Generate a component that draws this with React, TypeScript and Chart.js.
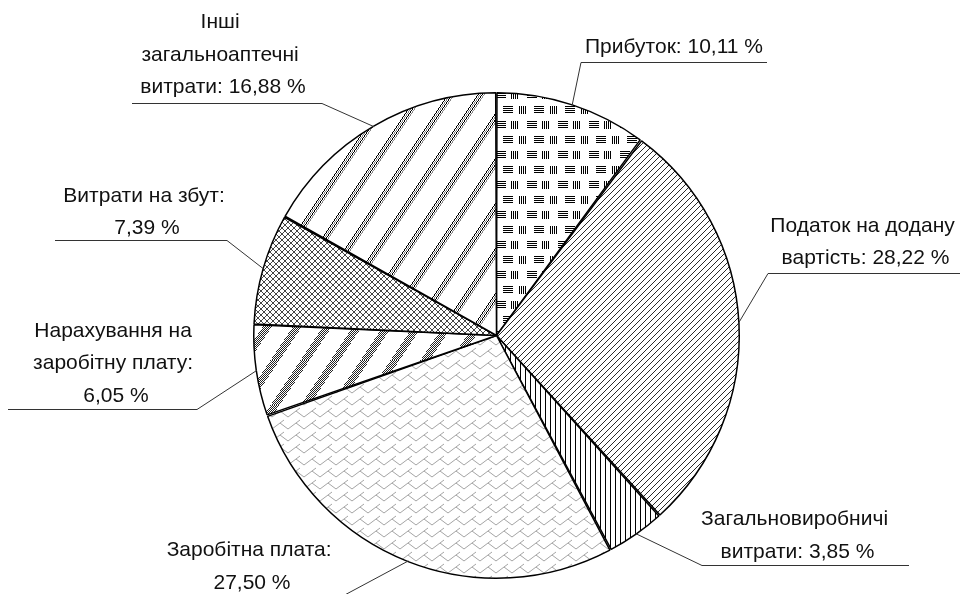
import React, { useEffect, useRef } from "react";
import { Chart, registerables } from "chart.js";

Chart.register(...registerables);

// ---- data ----
const categories = [
  "Прибуток",
  "Податок на додану вартість",
  "Загальновиробничі витрати",
  "Заробітна плата",
  "Нарахування на заробітну плату",
  "Витрати на збут",
  "Інші загальноаптечні витрати",
];
const shares = [10.11, 28.22, 3.85, 27.5, 6.05, 7.39, 16.88];
const valueSuffix = " %";
// how many words of "name: value %" go on each label line
const labelLineWords = [[3], [3, 3], [1, 3], [2, 2], [2, 2, 2], [3, 2], [1, 1, 3]];

// ---- label layout (positions only) ----
const labelBoxes = [
  { cx: 674, y0: 53, ulY: 62.5, ulX1: 581, ulX2: 767, elbowX: 581 },
  { cx: 865.5, y0: 231.5, ulY: 273.5, ulX1: 768, ulX2: 960, elbowX: 768 },
  { cx: 797.5, y0: 525, ulY: 565.5, ulX1: 702, ulX2: 909, elbowX: 702 },
  { cx: 252, y0: 556, ulY: 597.5, ulX1: 150, ulX2: 340, elbowX: 340 },
  { cx: 116, y0: 336.5, ulY: 409.5, ulX1: 8, ulX2: 197, elbowX: 197 },
  { cx: 147, y0: 201.5, ulY: 240.5, ulX1: 55, ulX2: 227, elbowX: 227 },
  { cx: 223, y0: 28, ulY: 103.5, ulX1: 132, ulX2: 322, elbowX: 322 },
];
const LINE_H = 32.5;
const FONT = '21px "Liberation Sans", Arial, sans-serif';

function fmt(v: number) {
  return v.toFixed(2).replace(".", ",");
}

function labelLines(i: number): string[] {
  const words = `${categories[i]}: ${fmt(shares[i])}${valueSuffix}`.split(" ");
  const out: string[] = [];
  let p = 0;
  const counts = labelLineWords[i];
  counts.forEach((n, k) => {
    let s = words.slice(p, p + n).join(" ");
    if (k < counts.length - 1) s += " ";
    out.push(s);
    p += n;
  });
  return out;
}

function tile(ctx: CanvasRenderingContext2D, w: number, h: number, draw: (g: CanvasRenderingContext2D) => void) {
  const c = document.createElement("canvas");
  c.width = w;
  c.height = h;
  const g = c.getContext("2d")!;
  g.fillStyle = "#fff";
  g.fillRect(0, 0, w, h);
  draw(g);
  return ctx.createPattern(c, "repeat")!;
}

function makePatterns(ctx: CanvasRenderingContext2D) {
  // 1: basket weave ≡ ||||
  const p1 = tile(ctx, 31, 30, (g) => {
    g.fillStyle = "#000";
    const glyph = (x: number, y: number, horiz: boolean) => {
      for (let k = 0; k < 4; k++) {
        if (horiz) g.fillRect(x, y + k * 2, 10, 1);
        else g.fillRect(x + k * 2, y, 1, 8);
      }
    };
    glyph(0, 1, true);
    glyph(15, 1, false);
    glyph(7, 16, true);
    glyph(23, 16, false);
  });
  // 2: dense up diagonal
  const p2 = tile(ctx, 6, 6, (g) => {
    g.fillStyle = "#2a2a2a";
    for (let i = 0; i < 6; i++) g.fillRect(i, 5 - i, 1, 1);
  });
  // 3: vertical lines
  const p3 = tile(ctx, 5, 1, (g) => {
    g.fillStyle = "#000";
    g.fillRect(0, 0, 1, 1);
  });
  // 4: herringbone light gray
  const p4 = tile(ctx, 16, 12, (g) => {
    g.strokeStyle = "#a4a4a4";
    g.lineWidth = 1;
    const segs = [
      [0, 9, 8, 3],
      [8, 3, 16, 9],
      [8, 3, 12, 0],
    ];
    for (const dx of [-16, 0, 16])
      for (const dy of [-12, 0, 12])
        for (const s of segs) {
          g.beginPath();
          g.moveTo(s[0] + dx, s[1] + dy);
          g.lineTo(s[2] + dx, s[3] + dy);
          g.stroke();
        }
  });
  // 5: wide stippled up-diagonal stripes
  const p5 = tile(ctx, 30, 45, (g) => {
    g.fillStyle = "#222";
    for (let y = 0; y < 45; y++)
      for (let x = 0; x < 30; x++) {
        let u = (x - ((45 - y) * 30) / 45) % 30;
        if (u < 0) u += 30;
        if (u < 9 && (x + y) % 2 === 0) g.fillRect(x, y, 1, 1);
      }
  });
  // 6: small diamonds
  const p6 = tile(ctx, 6, 6, (g) => {
    g.fillStyle = "#444";
    for (let i = 0; i < 6; i++) {
      g.fillRect(i, i, 1, 1);
      g.fillRect(i, 5 - i, 1, 1);
    }
  });
  // 7: groups of fine up-diagonal lines
  const p7 = tile(ctx, 30, 45, (g) => {
    for (let y = 0; y < 45; y++)
      for (let x = 0; x < 30; x++) {
        let u = (x - ((45 - y) * 30) / 45) % 30;
        if (u < 0) u += 30;
        const f = Math.floor(u);
        if (f === 0 || f === 4) {
          g.fillStyle = "#000";
          g.fillRect(x, y, 1, 1);
        } else if (f === 2 || f === 6) {
          g.fillStyle = "#888";
          g.fillRect(x, y, 1, 1);
        }
      }
  });
  return [p1, p2, p3, p4, p5, p6, p7];
}

const leaderLabels = {
  id: "leaderLabels",
  afterDraw(chart: any) {
    const ctx: CanvasRenderingContext2D = chart.ctx;
    const meta = chart.getDatasetMeta(0);
    ctx.save();
    meta.data.forEach((arc: any, i: number) => {
      const box = labelBoxes[i];
      const mid = (arc.startAngle + arc.endAngle) / 2;
      const px = arc.x + Math.cos(mid) * arc.outerRadius;
      const py = arc.y + Math.sin(mid) * arc.outerRadius;
      ctx.strokeStyle = "#333";
      ctx.lineWidth = 1;
      ctx.beginPath();
      ctx.moveTo(px, py);
      ctx.lineTo(box.elbowX, box.ulY);
      ctx.stroke();
      ctx.beginPath();
      ctx.moveTo(box.ulX1, box.ulY);
      ctx.lineTo(box.ulX2, box.ulY);
      ctx.stroke();
      ctx.fillStyle = "#111";
      ctx.font = FONT;
      ctx.textAlign = "center";
      ctx.textBaseline = "alphabetic";
      labelLines(i).forEach((s, k) => {
        ctx.fillText(s, box.cx, box.y0 + k * LINE_H);
      });
    });
    ctx.restore();
  },
};

export default function App() {
  const ref = useRef<HTMLCanvasElement>(null);
  useEffect(() => {
    const canvas = ref.current!;
    const ctx = canvas.getContext("2d")!;
    const patterns = makePatterns(ctx);
    const chart = new Chart(canvas, {
      type: "pie",
      data: {
        labels: categories,
        datasets: [
          {
            data: shares,
            backgroundColor: patterns as any,
            borderColor: "#000",
            borderWidth: 1.5,
            spacing: 1.5,
          } as any,
        ],
      },
      options: {
        responsive: false,
        animation: false,
        devicePixelRatio: 1,
        layout: { padding: { left: 253, right: 220, top: 92, bottom: 15 } },
        plugins: {
          legend: { display: false },
          tooltip: { enabled: false },
        },
      },
      plugins: [leaderLabels],
    });
    return () => chart.destroy();
  }, []);
  return (
    <div style={{ position: "fixed", left: 0, top: 0, width: 960, height: 594, background: "#fff" }}>
      <canvas ref={ref} width={960} height={594} style={{ display: "block" }} />
    </div>
  );
}
